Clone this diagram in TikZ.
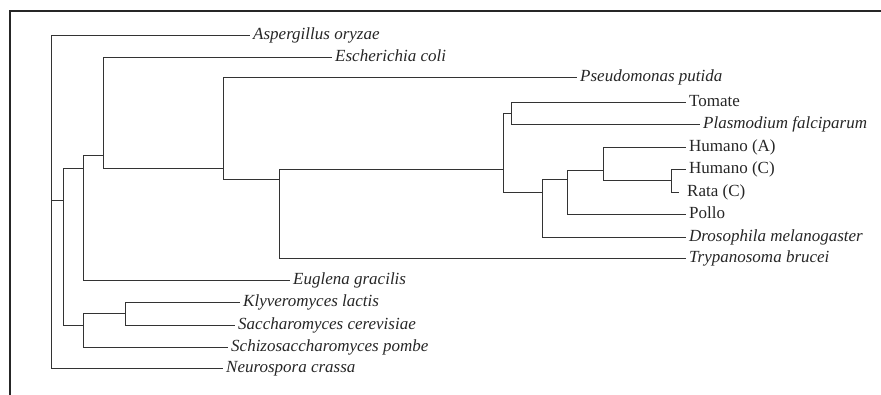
\documentclass[tikz,border=0pt]{standalone}
\usepackage{fontspec}
\setmainfont{Liberation Serif}
\begin{document}
\begin{tikzpicture}[x=1pt,y=-1pt,
  branch/.style={draw=black!80,line width=0.9pt},
  leaf/.style={anchor=west,inner xsep=3pt,inner ysep=0pt,text height=9pt,text depth=0pt,
    font=\fontsize{17}{17}\selectfont,text=black!85},
  sp/.style={leaf,font=\fontsize{17}{17}\selectfont\itshape}]
\useasboundingbox (0,0) rectangle (881,395);
% frame edges
\draw[black!85,line width=1.8pt] (10,395) -- (10,11) -- (881,11);

% internal nodes: x of the vertical bar, y where it joins its parent
\coordinate (r)   at (51,200);
\coordinate (n1)  at (63,200);
\coordinate (n2)  at (83,168);
\coordinate (n3)  at (103,155);
\coordinate (n4)  at (223,168);
\coordinate (n5)  at (279,179);
\coordinate (n6)  at (503,169);
\coordinate (n7)  at (511,113);
\coordinate (n8)  at (542,192);
\coordinate (n9)  at (567,179);
\coordinate (n10) at (603,170);
\coordinate (n11) at (671,180);
\coordinate (y1)  at (83,325);
\coordinate (y2)  at (125,313);

% leaves
\node[sp]   (asp)  at (250,35)  {Aspergillus oryzae};
\node[sp]   (eco)  at (332,57)  {Escherichia coli};
\node[sp]   (pse)  at (577,77)  {Pseudomonas putida};
\node[leaf] (tom)  at (686,102) {Tomate};
\node[sp]   (pla)  at (700,124) {Plasmodium falciparum};
\node[leaf] (huma) at (686,147) {Humano (A)};
\node[leaf] (humc) at (686,169) {Humano (C)};
\node[leaf,inner xsep=0pt] (rat) at (679,192) {\hspace{8pt}Rata (C)};
\node[leaf] (pol)  at (686,214) {Pollo};
\node[sp]   (dro)  at (686,237) {Drosophila melanogaster};
\node[sp]   (try)  at (686,258) {Trypanosoma brucei};
\node[sp]   (eug)  at (290,280) {Euglena gracilis};
\node[sp]   (kly)  at (240,302) {Klyveromyces lactis};
\node[sp]   (sac)  at (235,325) {Saccharomyces cerevisiae};
\node[sp]   (sch)  at (228,347) {Schizosaccharomyces pombe};
\node[sp]   (neu)  at (223,368) {Neurospora crassa};

% branches
\draw[branch] (r) |- (asp.west);
\draw[branch] (r) |- (n1);
\draw[branch] (r) |- (neu.west);
\draw[branch] (n1) |- (n2);
\draw[branch] (n1) |- (y1);
\draw[branch] (n2) |- (n3);
\draw[branch] (n2) |- (eug.west);
\draw[branch] (n3) |- (eco.west);
\draw[branch] (n3) |- (n4);
\draw[branch] (n4) |- (pse.west);
\draw[branch] (n4) |- (n5);
\draw[branch] (n5) |- (n6);
\draw[branch] (n5) |- (try.west);
\draw[branch] (n6) |- (n7);
\draw[branch] (n6) |- (n8);
\draw[branch] (n7) |- (tom.west);
\draw[branch] (n7) |- (pla.west);
\draw[branch] (n8) |- (n9);
\draw[branch] (n8) |- (dro.west);
\draw[branch] (n9) |- (n10);
\draw[branch] (n9) |- (pol.west);
\draw[branch] (n10) |- (huma.west);
\draw[branch] (n10) |- (n11);
\draw[branch] (n11) |- (humc.west);
\draw[branch] (n11) |- (rat.west);
\draw[branch] (y1) |- (y2);
\draw[branch] (y1) |- (sch.west);
\draw[branch] (y2) |- (kly.west);
\draw[branch] (y2) |- (sac.west);
\end{tikzpicture}
\end{document}
